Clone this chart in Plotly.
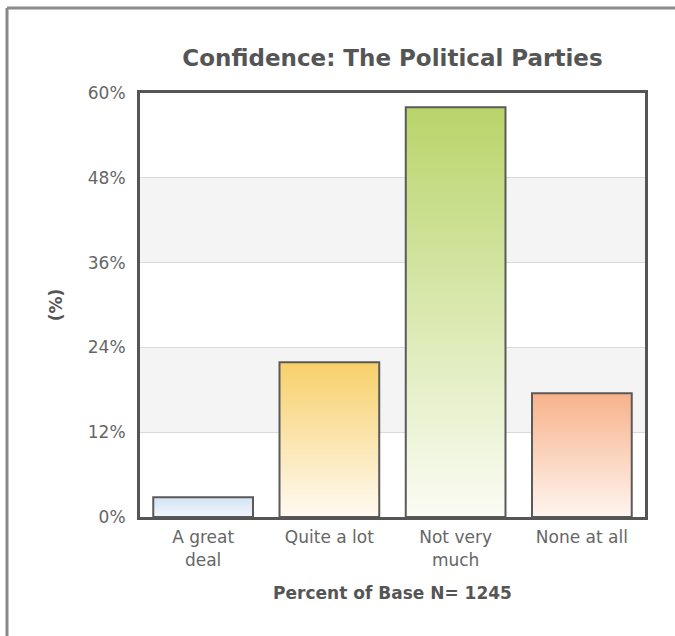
import plotly.graph_objects as go

categories = ["A great<br>deal", "Quite a lot", "Not very<br>much", "None at all"]
values = [2.8, 21.9, 58.0, 17.5]
top_colors = ["#d3e3f3", "#f7d06a", "#b9d46a", "#f7b28a"]
bottom_colors = ["#f1f6fc", "#fffaf2", "#fbfcf5", "#fff5f0"]
y_ticks = [0, 12, 24, 36, 48, 60]
y_tick_text = ["0%", "12%", "24%", "36%", "48%", "60%"]

W, H = 675, 636
ML, MR, MT, MB = 140, 30, 93, 119
font_family = "DejaVu Sans, Verdana, sans-serif"

fig = go.Figure()
half = 0.395
for i, (v, tc, bc) in enumerate(zip(values, top_colors, bottom_colors)):
    fig.add_trace(go.Scatter(
        x=[i - half, i - half, i + half, i + half, i - half],
        y=[0, v, v, 0, 0],
        mode="lines",
        fill="toself",
        fillgradient=dict(type="vertical", colorscale=[[0, bc], [1, tc]]),
        line=dict(color="#5a5a5a", width=2),
        hoverinfo="skip",
        showlegend=False,
    ))

# alternate bands
for lo, hi in [(12, 24), (36, 48)]:
    fig.add_shape(type="rect", xref="paper", yref="y", x0=0, x1=1, y0=lo, y1=hi,
                  fillcolor="#f4f4f4", line=dict(width=0), layer="below")

# outer frame (left and top)
pw = W - ML - MR
ph = H - MT - MB
def px_x(px):
    return (px - ML) / pw
def px_y(py):
    return 1 - (py - MT) / ph
fig.add_shape(type="line", xref="paper", yref="paper",
              x0=px_x(7), x1=px_x(7), y0=px_y(8), y1=px_y(640),
              line=dict(color="#8a8a8a", width=3))
fig.add_shape(type="line", xref="paper", yref="paper",
              x0=px_x(7), x1=px_x(676), y0=px_y(8), y1=px_y(8),
              line=dict(color="#8a8a8a", width=3))

fig.update_layout(
    width=W, height=H,
    margin=dict(l=ML, r=MR, t=MT, b=MB),
    paper_bgcolor="white",
    plot_bgcolor="white",
    font=dict(family=font_family, color="#666666", size=17),
    title=dict(text="<b>Confidence: The Political Parties</b>",
               x=(ML + pw / 2) / W, xanchor="center",
               y=1 - 58 / H, yanchor="middle",
               font=dict(size=23, color="#555555", family=font_family)),
    xaxis=dict(
        range=[-0.5, 3.5],
        tickvals=list(range(len(categories))),
        ticktext=categories,
        showgrid=False, zeroline=False,
        showline=True, mirror=True, linecolor="#555555", linewidth=3,
        ticks="", ticklabelstandoff=3,
        tickfont=dict(size=17, color="#666666"),
        title=dict(text="<b>Percent of Base N= 1245</b>",
                   font=dict(size=17, color="#555555"), standoff=19),
        fixedrange=True,
    ),
    yaxis=dict(
        range=[0, 60],
        tickvals=y_ticks, ticktext=y_tick_text,
        showgrid=True, gridcolor="#d9d9d9", gridwidth=1,
        zeroline=False,
        showline=True, mirror=True, linecolor="#555555", linewidth=3,
        ticks="", ticklabelstandoff=8,
        tickfont=dict(size=17, color="#666666"),
        title=dict(text="<b>(%)</b>", font=dict(size=17, color="#555555"), standoff=21),
        fixedrange=True,
    ),
)

fig.write_html("out.html")
